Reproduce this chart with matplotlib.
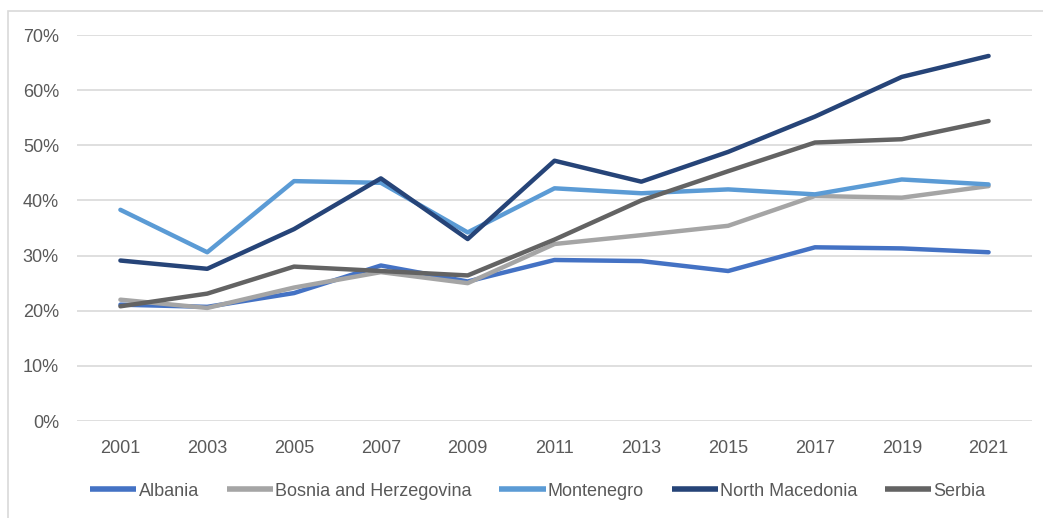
import matplotlib
matplotlib.use("Agg")
import matplotlib.pyplot as plt
from matplotlib.patches import Rectangle
from matplotlib.ticker import PercentFormatter

years = [2001, 2003, 2005, 2007, 2009, 2011, 2013, 2015, 2017, 2019, 2021]

albania = [21.1, 20.7, 23.2, 28.2, 25.3, 29.2, 29.0, 27.2, 31.5, 31.3, 30.6]
bosnia = [22.0, 20.5, 24.2, 27.0, 25.0, 32.1, 33.7, 35.4, 40.8, 40.5, 42.6]
montenegro = [38.3, 30.6, 43.5, 43.2, 34.2, 42.2, 41.3, 42.0, 41.1, 43.8, 42.9]
north_macedonia = [29.1, 27.6, 34.8, 44.0, 33.0, 47.2, 43.4, 48.8, 55.2, 62.4, 66.2]
serbia = [20.8, 23.1, 28.0, 27.2, 26.4, 32.9, 40.0, 45.3, 50.5, 51.1, 54.4]

series = [
    ("Albania", albania, "#4472C4"),
    ("Bosnia and Herzegovina", bosnia, "#A5A5A5"),
    ("Montenegro", montenegro, "#5B9BD5"),
    ("North Macedonia", north_macedonia, "#264478"),
    ("Serbia", serbia, "#636363"),
]

plt.rcParams["font.family"] = ["Liberation Sans", "DejaVu Sans"]
text_color = "#595959"

fig = plt.figure(figsize=(10.43, 5.18), dpi=100)
fig.patches.append(Rectangle((8 / 1043, -0.1), 1.2, 1 - 11 / 518 + 0.1,
                             transform=fig.transFigure, fill=False,
                             edgecolor="#D9D9D9", linewidth=1.2))

ax = fig.add_axes([77 / 1043, 1 - 421 / 518, (1032 - 77) / 1043, (421 - 35) / 518])

for name, vals, color in series:
    ax.plot(years, vals, color=color, linewidth=3.2, label=name,
            solid_capstyle="round", solid_joinstyle="round")

ax.set_xlim(2000, 2022)
ax.set_ylim(0, 70)
ax.set_yticks(range(0, 71, 10))
ax.yaxis.set_major_formatter(PercentFormatter(decimals=0))
ax.set_xticks(years)
ax.grid(axis="y", color="#D9D9D9", linewidth=1.2)
ax.set_axisbelow(True)
for s in ax.spines.values():
    s.set_visible(False)
ax.tick_params(length=0, labelsize=13, colors=text_color)
ax.tick_params(axis="y", pad=13)
ax.tick_params(axis="x", pad=14)

leg = fig.legend(loc="center", bbox_to_anchor=(538 / 1043, 1 - 491 / 518),
                 ncol=5, frameon=False, fontsize=13, handlelength=2.55,
                 handletextpad=0.12, columnspacing=1.55)
for t in leg.get_texts():
    t.set_color(text_color)
for h in leg.legend_handles:
    h.set_linewidth(4)
    h.set_solid_capstyle("butt")

fig.savefig("out.png", dpi=100)
